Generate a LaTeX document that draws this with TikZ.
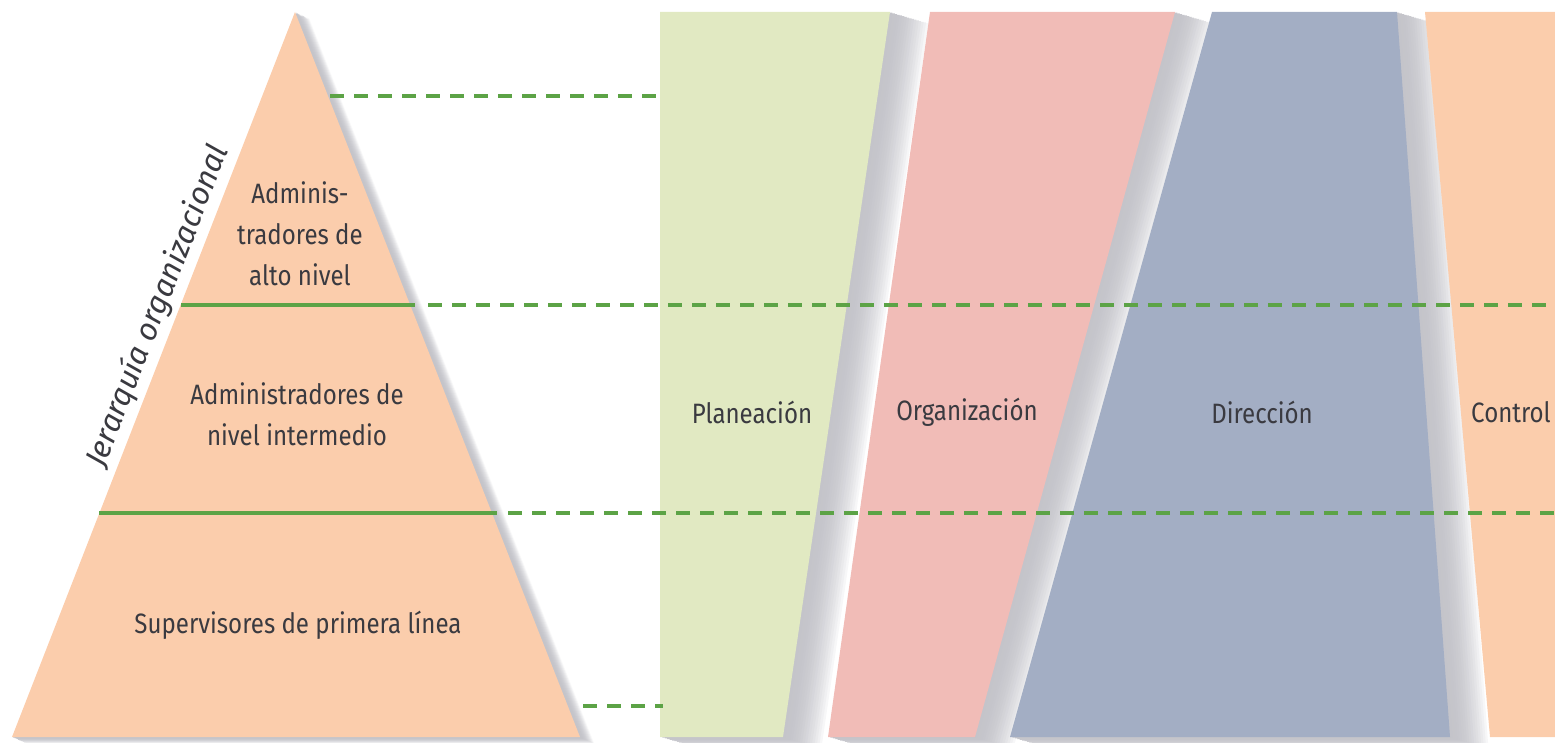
\documentclass[tikz,border=0pt]{standalone}
\usepackage{fontspec}
\setmainfont{Fira Sans}[FakeStretch=0.86]
\newfontfamily\axisfont{Fira Sans}
\definecolor{peach}{RGB}{251,205,172}
\definecolor{sage}{RGB}{225,233,194}
\definecolor{rose}{RGB}{241,188,183}
\definecolor{slate}{RGB}{163,174,196}
\definecolor{guidegreen}{RGB}{92,163,70}
\definecolor{txtgray}{RGB}{58,58,64}
\definecolor{shadowgray}{RGB}{196,196,202}
\begin{document}
\begin{tikzpicture}[x=1pt,y=-1pt,
  lbl/.style={text=txtgray, font=\fontsize{28}{41}\selectfont, align=center, inner sep=0pt},
  guide solid/.style={draw=guidegreen, line width=4.5pt},
  guide dashed/.style={draw=guidegreen, line width=4.5pt, dash pattern=on 14pt off 10pt},
  pyramid shape/.style={insert path={(295,12) -- (580,737) -- (12,737) -- cycle}},
  plan shape/.style={insert path={(660,12) -- (890,12) -- (783,737) -- (660,737) -- cycle}},
  org shape/.style={insert path={(930,12) -- (1175,12) -- (975,737) -- (828,737) -- cycle}},
  dir shape/.style={insert path={(1212,12) -- (1397,12) -- (1450,737) -- (1010,737) -- cycle}},
  ctrl shape/.style={insert path={(1425,12) -- (1600,12) -- (1600,737) -- (1490,737) -- cycle}},
  ]
\useasboundingbox (0,0) rectangle (1555,743);
\clip (0,0) rectangle (1555,743);

% soft shadows: shifted copies, lightest (farthest) first
\foreach \k in {16,15,...,1}{
  \pgfmathtruncatemacro\m{100-(\k-1)*(\k-1)*0.38}
  \fill[shadowgray!\m!white, shift={(2.4*\k,0.7*\k)}, plan shape];
  \fill[shadowgray!\m!white, shift={(2.4*\k,0.7*\k)}, org shape];
  \fill[shadowgray!\m!white, shift={(2.4*\k,0.7*\k)}, dir shape];
}
\foreach \k in {12,11,...,1}{
  \pgfmathtruncatemacro\m{100-(\k-1)*(\k-1)*0.75}
  \fill[shadowgray!\m!white, shift={(1.2*\k,0.55*\k)}, pyramid shape];
}

% pyramid and function panels
\fill[peach, pyramid shape];
\fill[sage, plan shape];
\fill[rose, org shape];
\fill[slate, dir shape];
\fill[peach, ctrl shape];

% level boundaries
\coordinate (t1) at (330,96);   \coordinate (t2) at (660,96);
\coordinate (a1) at (181,305);  \coordinate (a2) at (415,305);
\coordinate (a3) at (428,305);  \coordinate (a4) at (1560,305);
\coordinate (b1) at (99,513);   \coordinate (b2) at (497,513);
\coordinate (b3) at (508,513);  \coordinate (b4) at (1560,513);
\coordinate (s1) at (583,706);  \coordinate (s2) at (663,706);
\draw[guide dashed] (t1) -- (t2);
\draw[guide solid] (a1) -- (a2);
\draw[guide dashed] (a3) -- (a4);
\draw[guide solid] (b1) -- (b2);
\draw[guide dashed] (b3) -- (b4);
\draw[guide dashed] (s1) -- (s2);

% labels
\node[lbl] (top) at (300,234) {Adminis-\\tradores de\\alto nivel};
\node[lbl] (mid) at (297,414) {Administradores de\\nivel intermedio};
\node[lbl] (low) at (298,625) {Supervisores de primera línea};
\node[lbl] (plan) at (752,412) {Planeación};
\node[lbl] (org) at (967,412) {Organización};
\node[lbl] (dir) at (1262,412) {Dirección};
\node[lbl] (ctrl) at (1511,412) {Control};
\node[lbl, font=\axisfont\itshape\fontsize{31}{36}\selectfont, rotate=68.7] (axis) at (158,306) {Jerarquía organizacional};
\end{tikzpicture}
\end{document}
